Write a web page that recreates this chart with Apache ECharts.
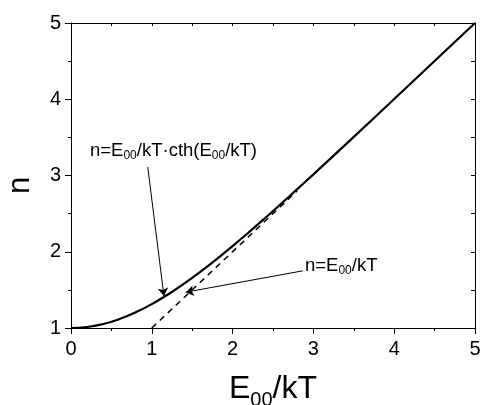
<!DOCTYPE html>
<html>
<head>
<meta charset="utf-8">
<script src="https://cdn.jsdelivr.net/npm/echarts@6/dist/echarts.min.js"></script>
<style>
  html, body { margin: 0; padding: 0; background: #fff; }
  #chart { width: 482px; height: 405px; }
</style>
</head>
<body>
<div id="chart"></div>
<script>
// values
var xVals = [0, 0.2, 0.4, 0.6, 0.8, 1.0, 1.2, 1.4, 1.6, 1.8, 2.0, 2.2, 2.4, 2.6, 2.8, 3.0, 3.5, 4.0, 4.5, 5.0];
var nCth  = [1.000, 1.013, 1.053, 1.117, 1.205, 1.313, 1.440, 1.581, 1.736, 1.901, 2.075, 2.255, 2.440, 2.629, 2.821, 3.015, 3.506, 4.003, 4.501, 5.000];
var dashX = [1.0, 2.8];
var dashY = [1.0, 2.8];
var xTicks = [0, 1, 2, 3, 4, 5];
var yTicks = [1, 2, 3, 4, 5];

var FONT = "'Liberation Sans', Arial, sans-serif";

var solidData = [];
for (i = 0; i < xVals.length; i++) {
    solidData.push([xVals[i], nCth[i]]);
}
var dashData = [];
for (i = 0; i < dashX.length; i++) {
    dashData.push([dashX[i], dashY[i]]);
}

var dom = document.getElementById("chart");
var myChart = echarts.init(dom, null, { renderer: 'canvas' });
var option = {
    animation: false,
    backgroundColor: '#fff',
    grid: {
        left: 71,
        right: 7,
        top: 23,
        bottom: 77,
        containLabel: false,
        outerBoundsMode: 'none'
    },
    xAxis: [
        {
            type: 'value',
            min: xTicks[0],
            max: xTicks[xTicks.length - 1],
            interval: 1,
            name: 'E{sub|00}/kT',
            nameLocation: 'middle',
            nameGap: 40,
            nameTextStyle: {
                fontFamily: FONT,
                fontSize: 32,
                color: '#000',
                rich: {
                    sub: { fontFamily: FONT, fontSize: 20, color: '#000', padding: [22, 0, 0, 0] }
                }
            },
            axisLine: { show: true, onZero: false, lineStyle: { color: '#000', width: 1 } },
            axisTick: { show: true, inside: false, length: 6, lineStyle: { color: '#000' } },
            minorTick: { show: true, splitNumber: 2, length: 3, lineStyle: { color: '#000' } },
            axisLabel: { fontFamily: FONT, fontSize: 20, color: '#000', margin: 11 },
            splitLine: { show: false }
        },
        {
            type: 'value',
            position: 'top',
            min: 0,
            max: 5,
            interval: 0.5,
            axisLine: { show: true, onZero: false, lineStyle: { color: '#000', width: 1 } },
            axisTick: { show: true, inside: true, length: 3, lineStyle: { color: '#000' } },
            axisLabel: { show: false },
            splitLine: { show: false }
        }
    ],
    yAxis: [
        {
            type: 'value',
            min: yTicks[0],
            max: yTicks[yTicks.length - 1],
            interval: 1,
            name: 'n',
            nameLocation: 'middle',
            nameRotate: 90,
            nameGap: 35,
            nameTextStyle: { fontFamily: FONT, fontSize: 31, color: '#000', padding: [0, 20, 0, 0] },
            axisLine: { show: true, onZero: false, lineStyle: { color: '#000', width: 1 } },
            axisTick: { show: true, inside: false, length: 6, lineStyle: { color: '#000' } },
            minorTick: { show: true, splitNumber: 2, length: 3, lineStyle: { color: '#000' } },
            axisLabel: { fontFamily: FONT, fontSize: 20, color: '#000', margin: 10 },
            splitLine: { show: false }
        },
        {
            type: 'value',
            position: 'right',
            min: 1,
            max: 5,
            interval: 0.5,
            axisLine: { show: true, onZero: false, lineStyle: { color: '#000', width: 1 } },
            axisTick: { show: true, inside: true, length: 4, lineStyle: { color: '#000' } },
            axisLabel: { show: false },
            splitLine: { show: false }
        }
    ],
    series: [
        {
            name: 'n=E00/kT',
            type: 'line',
            data: dashData,
            showSymbol: false,
            lineStyle: { color: '#000', width: 1.5, type: [6, 5] },
            z: 2
        },
        {
            name: 'n=E00/kT*cth(E00/kT)',
            type: 'line',
            data: solidData,
            smooth: true,
            showSymbol: false,
            lineStyle: { color: '#000', width: 2.2 },
            z: 3,
            markLine: {
                silent: true,
                symbol: ['none', 'arrow'],
                symbolSize: 8,
                label: { show: false },
                lineStyle: { color: '#000', width: 1, type: 'solid' },
                data: [
                    [{ coord: [0.95, 3.11] }, { coord: [1.15, 1.42] }],
                    [{ coord: [2.87, 1.75] }, { coord: [1.42, 1.47] }]
                ]
            }
        }
    ],
    graphic: [
        {
            type: 'text',
            left: 90,
            top: 141,
            style: {
                text: 'n=E{sub|00}/kT·cth(E{sub|00}/kT)',
                fontFamily: FONT,
                fontSize: 18.5,
                fill: '#000',
                rich: {
                    sub: { fontFamily: FONT, fontSize: 12, fill: '#000', padding: [11, 0, 0, 0] }
                }
            }
        },
        {
            type: 'text',
            left: 305,
            top: 256,
            style: {
                text: 'n=E{sub|00}/kT',
                fontFamily: FONT,
                fontSize: 18.5,
                fill: '#000',
                rich: {
                    sub: { fontFamily: FONT, fontSize: 12, fill: '#000', padding: [11, 0, 0, 0] }
                }
            }
        }
    ]
};
if (option && typeof option === "object") {
    myChart.setOption(option, true);
}
</script>
</body>
</html>
